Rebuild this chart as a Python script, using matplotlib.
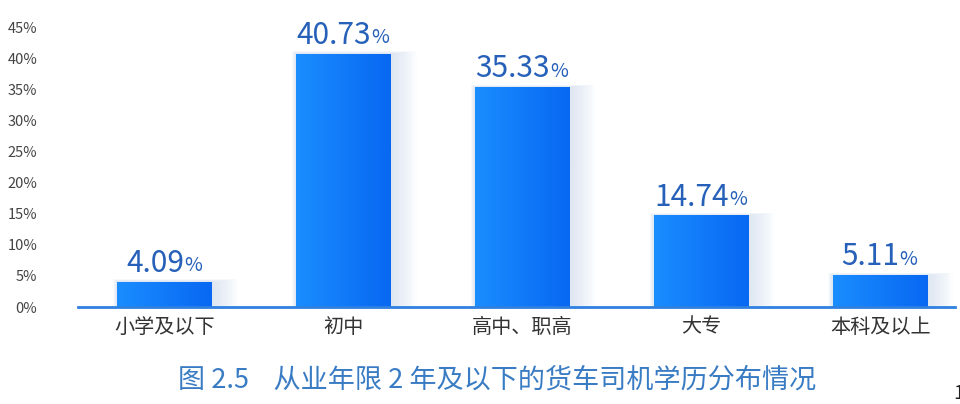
import numpy as np
import matplotlib
matplotlib.use('Agg')
import matplotlib.pyplot as plt
from matplotlib.patches import Rectangle

plt.rcParams['font.family'] = ['Noto Sans CJK SC', 'DejaVu Sans']

categories = ['小学及以下', '初中', '高中、职高', '大专', '本科及以上']
values = [4.09, 40.73, 35.33, 14.74, 5.11]
yticks = [0, 5, 10, 15, 20, 25, 30, 35, 40, 45]
title = '图 2.5    从业年限 2 年及以下的货车司机学历分布情况'

fig = plt.figure(figsize=(9.6, 4.04), dpi=100)
ax = fig.add_axes([0.081, 0.240, 0.914, 0.693])

x = np.arange(len(categories))
width = 0.53

# soft glow behind the bars
for k in range(14):
    grow = 0.006 * (k + 1)
    for xi, v in zip(x, values):
        ax.add_patch(Rectangle((xi - width / 2 - grow * 0.3, 0),
                               width + grow * 2.0, v + grow * 5,
                               color='#9cc2f0', alpha=0.022, lw=0, zorder=1))

bars = ax.bar(x, values, width=width, color='#0a78f5', zorder=2)

# horizontal gradient inside each bar
grad = np.linspace(0, 1, 64).reshape(1, -1)
cmap = matplotlib.colors.LinearSegmentedColormap.from_list('b', ['#1a8dff', '#0868f2'])
for b in bars:
    x0, w, h = b.get_x(), b.get_width(), b.get_height()
    im = ax.imshow(grad, cmap=cmap, aspect='auto', extent=(x0, x0 + w, 0, h), zorder=3)
    im.set_clip_path(b)

for xi, v in zip(x, values):
    t = ax.annotate(f'{v:.2f}', xy=(xi, v), xytext=(-7, 2), textcoords='offset points',
                    ha='center', va='bottom', fontsize=21.5, fontweight='medium',
                    color='#2660b8', zorder=5)
    ax.annotate('%', xy=(1, 0), xycoords=t, xytext=(0, 2), textcoords='offset points',
                ha='left', va='bottom', fontsize=14, color='#2660b8', zorder=5)

ax.set_xlim(-0.487, 4.42)
ax.set_ylim(0, 45)
ax.set_xticks(x)
ax.set_xticklabels(categories, fontsize=14.5, color='#333333')
ax.set_yticks(yticks)
ax.set_yticklabels([f'{t}%' for t in yticks], fontsize=10.5, color='#444444')
ax.tick_params(axis='both', length=0)
ax.tick_params(axis='x', pad=7)
ax.tick_params(axis='y', pad=29)
for s in ['top', 'right', 'left']:
    ax.spines[s].set_visible(False)
ax.spines['bottom'].set_color('#2f80e0')
ax.spines['bottom'].set_linewidth(2)
ax.spines['bottom'].set_zorder(6)

fig.text(0.518, 0.06, title, ha='center', va='center', fontsize=19.5, color='#3a7cc4')
fig.text(0.993, 0.025, '1', ha='left', va='center', fontsize=14, color='#222222')

fig.savefig('out.png', dpi=100)
